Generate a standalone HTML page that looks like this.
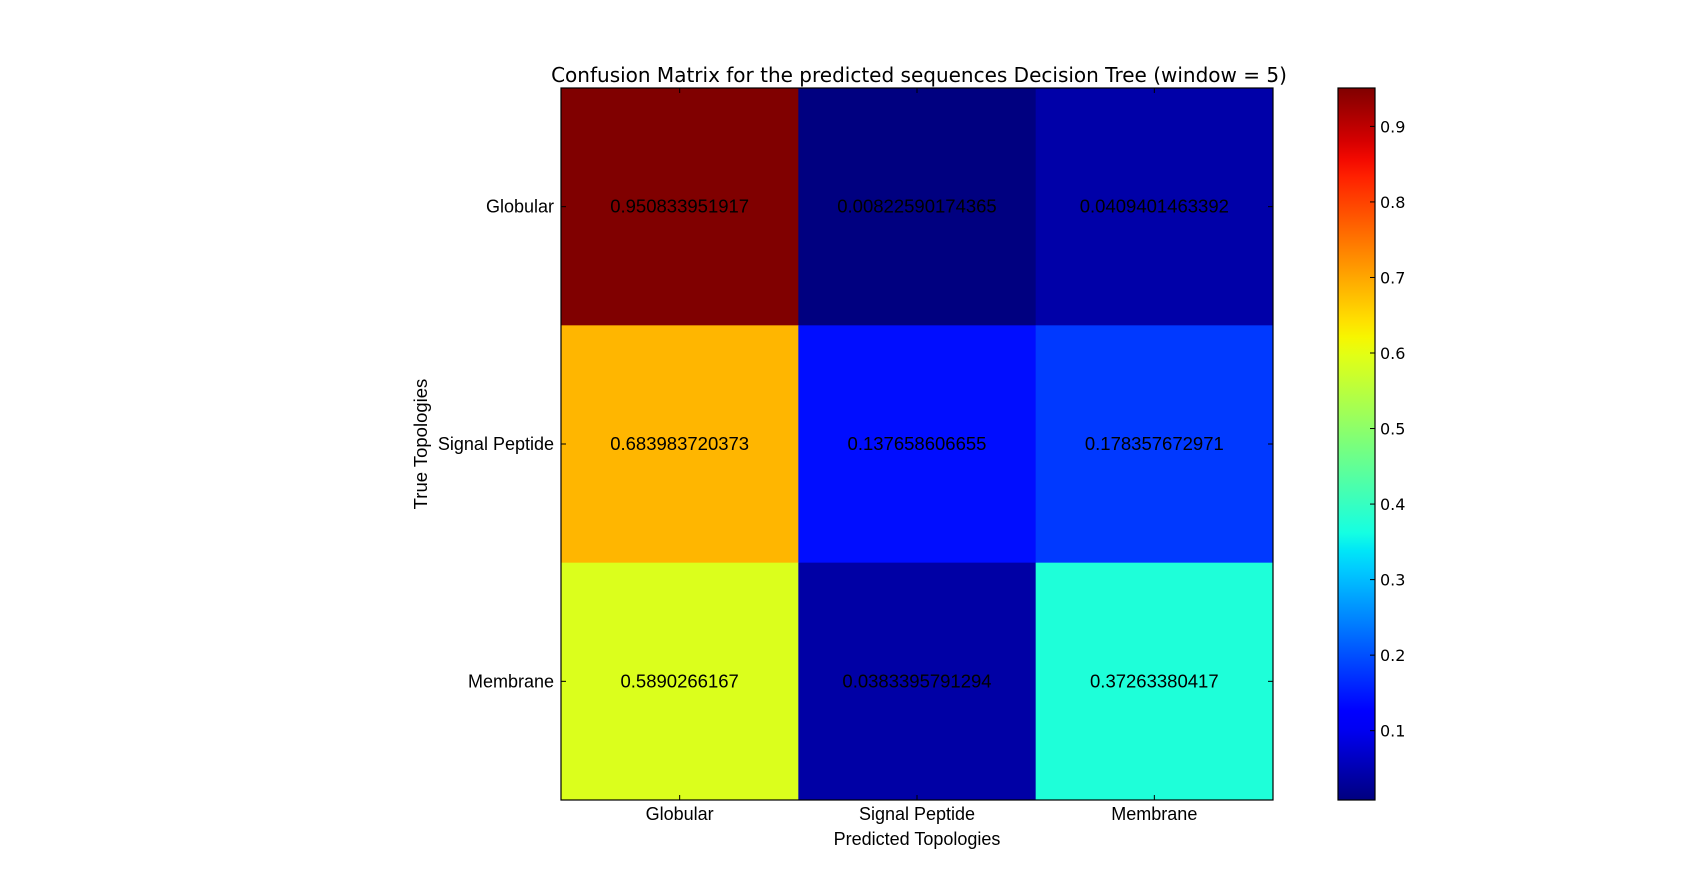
<!DOCTYPE html>
<html><head><meta charset="utf-8"><style>
html,body{margin:0;padding:0;background:#fff;}
svg{display:block;}
</style></head><body>
<svg id="chart" width="1707" height="888" xmlns="http://www.w3.org/2000/svg">
<text x="919" y="82" text-anchor="middle" font-family="DejaVu Sans, sans-serif" font-size="20">Confusion Matrix for the predicted sequences Decision Tree (window = 5)</text>
<g id="cells"></g>
<g id="labels"></g>
<defs><linearGradient id="jetgrad" x1="0" y1="1" x2="0" y2="0"></linearGradient></defs>
<g id="cbar"></g>
</svg>
<script>
const rowLabels = ["Globular","Signal Peptide","Membrane"];
const colLabels = ["Globular","Signal Peptide","Membrane"];
const row0 = [0.950833951917, 0.00822590174365, 0.0409401463392];
const row1 = [0.683983720373, 0.137658606655, 0.178357672971];
const row2 = [0.5890266167, 0.0383395791294, 0.37263380417];
const cellText0 = ["0.950833951917","0.00822590174365","0.0409401463392"];
const cellText1 = ["0.683983720373","0.137658606655","0.178357672971"];
const cellText2 = ["0.5890266167","0.0383395791294","0.37263380417"];
const cbarTicks = [0.1,0.2,0.3,0.4,0.5,0.6,0.7,0.8,0.9];
const cbarTickLabels = ["0.1","0.2","0.3","0.4","0.5","0.6","0.7","0.8","0.9"];

const matrix=[row0,row1,row2], texts=[cellText0,cellText1,cellText2];
const NS="http://www.w3.org/2000/svg";
const L=561,T=88,W=712,H=712;
const all=matrix.flat();
const vmin=Math.min(...all), vmax=Math.max(...all);
const segR=[[0,0],[0.35,0],[0.66,1],[0.89,1],[1,0.5]];
const segG=[[0,0],[0.125,0],[0.375,1],[0.64,1],[0.91,0],[1,0]];
const segB=[[0,0.5],[0.11,1],[0.34,1],[0.65,0],[1,0]];
function interp(seg,t){for(let k=1;k<seg.length;k++){if(t<=seg[k][0]){const a=seg[k-1],b=seg[k];return a[1]+(b[1]-a[1])*(t-a[0])/(b[0]-a[0]);}}return seg[seg.length-1][1];}
function jet(v){
  let t=(v-vmin)/(vmax-vmin); t=Math.max(0,Math.min(1,t));
  return `rgb(${Math.round(interp(segR,t)*255)},${Math.round(interp(segG,t)*255)},${Math.round(interp(segB,t)*255)})`;
}
function xPos(j){return L+j*W/colLabels.length;}
function yPos(i){return T+i*H/rowLabels.length;}
function mk(tag,attrs,parent){const e=document.createElementNS(NS,tag);for(const k in attrs)e.setAttribute(k,attrs[k]);parent.appendChild(e);return e;}
const cells=document.getElementById('cells'), labels=document.getElementById('labels');
const cw=W/colLabels.length, ch=H/rowLabels.length;
const FF='Liberation Sans Narrow, Liberation Sans, sans-serif';
matrix.forEach((row,i)=>row.forEach((v,j)=>{
  const r=mk('rect',{x:xPos(j),y:yPos(i),width:cw+0.5,height:ch+0.5,fill:jet(v)},cells);
  
  
  const t=mk('text',{x:xPos(j)+cw/2,y:yPos(i)+ch/2+6,'text-anchor':'middle','font-family':FF,'font-size':'18.5'},cells);
  t.textContent=texts[i][j];
  
  
}));
const fr=mk('rect',{x:L,y:T,width:W,height:H,fill:'none',stroke:'#000','stroke-width':1.2},cells);


rowLabels.forEach((lab,i)=>{
  const y=yPos(i)+ch/2;
  mk('line',{x1:L,x2:L+5,y1:y,y2:y,stroke:'#000'},labels);
  mk('line',{x1:L+W-5,x2:L+W,y1:y,y2:y,stroke:'#000'},labels);
  const t=mk('text',{x:L-7,y:y+6,'text-anchor':'end','font-family':FF,'font-size':'18'},labels);
  t.textContent=lab;
  
  
});
colLabels.forEach((lab,j)=>{
  const x=xPos(j)+cw/2;
  mk('line',{x1:x,x2:x,y1:T+H-5,y2:T+H,stroke:'#000'},labels);
  mk('line',{x1:x,x2:x,y1:T,y2:T+5,stroke:'#000'},labels);
  const t=mk('text',{x:x,y:820,'text-anchor':'middle','font-family':FF,'font-size':'18'},labels);
  t.textContent=lab;
  
  
});
let xt=mk('text',{x:L+W/2,y:845,'text-anchor':'middle','font-family':FF,'font-size':'18'},labels);
xt.textContent='Predicted Topologies';


let yt=mk('text',{x:0,y:0,'text-anchor':'middle','font-family':FF,'font-size':'18.5','transform':'translate(427,'+(T+H/2)+') rotate(-90)'},labels);
yt.textContent='True Topologies';


const grad=document.getElementById('jetgrad');
for(let k=0;k<=40;k++){const v=vmin+(vmax-vmin)*k/40;mk('stop',{offset:(k/40),'stop-color':jet(v)},grad);}
const cb=document.getElementById('cbar');
const CL=1338,CW=37;
function cy(v){return T+H-(v-vmin)/(vmax-vmin)*H;}
const cr=mk('rect',{x:CL,y:T,width:CW,height:H,fill:'url(#jetgrad)',stroke:'#000','stroke-width':1.2},cb);


cbarTicks.forEach((v,k)=>{
  const y=cy(v);
  mk('line',{x1:CL+CW-5,x2:CL+CW,y1:y,y2:y,stroke:'#000'},cb);
  const t=mk('text',{x:CL+CW+5,y:y+6,'font-family':'DejaVu Sans, sans-serif','font-size':'16'},cb);
  t.textContent=cbarTickLabels[k];
  
  
});
</script>
</body></html>
